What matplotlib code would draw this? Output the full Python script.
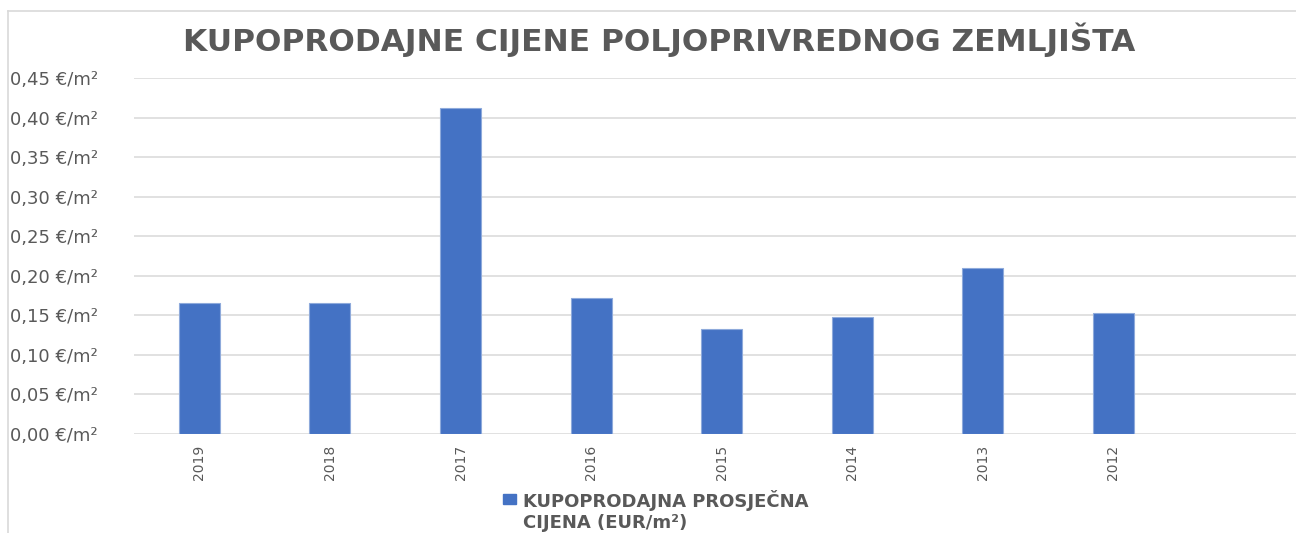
import matplotlib.pyplot as plt
from matplotlib.lines import Line2D
from matplotlib.patches import Rectangle

years = ['2019', '2018', '2017', '2016', '2015', '2014', '2013', '2012']
prices = [0.165, 0.165, 0.412, 0.172, 0.133, 0.148, 0.210, 0.153]
yticks = [0.00, 0.05, 0.10, 0.15, 0.20, 0.25, 0.30, 0.35, 0.40, 0.45]
title = 'KUPOPRODAJNE CIJENE POLJOPRIVREDNOG ZEMLJIŠTA'
legend_label = 'KUPOPRODAJNA PROSJEČNA\nCIJENA (EUR/m²)'

grey = '#595959'
blue = '#4472C4'

plt.rcParams['font.family'] = ['DejaVu Sans']

fig = plt.figure(figsize=(12.96, 5.33), dpi=100)
W, H = 1296, 533

# plot area in pixels: left 134, right cut off at image edge, y 0 at 434, 0.45 at 78
ax = fig.add_axes([134 / W, (H - 434) / H, (W - 134) / W, (434 - 78) / H])

x = list(range(len(years)))
ax.bar(x, prices, width=0.315, color=blue, edgecolor='#8eaadb', linewidth=0.8, zorder=3)

slot = 130.6
ax.set_xlim(-0.5, -0.5 + (W - 134) / slot)
ax.set_ylim(0, 0.45)
ax.set_yticks(yticks)
ax.set_yticklabels([('%.2f €/m²' % v).replace('.', ',') for v in yticks],
                   fontsize=13, color=grey)
ax.set_xticks(x)
ax.set_xticklabels(years, rotation=90, fontsize=10, color=grey)
ax.tick_params(axis='both', length=0)
ax.tick_params(axis='x', pad=8)
for lbl in ax.get_yticklabels():
    lbl.set_horizontalalignment('left')
# pad in points: labels start at x=10 px
ax.tick_params(axis='y', pad=(134 - 10) * 72 / 100)

ax.grid(axis='y', color='#dcdcdc', linewidth=1.2, zorder=0)
for s in ax.spines.values():
    s.set_visible(False)

# chart frame (cropped on right and bottom)
fig.add_artist(Line2D([8 / W, 8 / W], [0, (H - 11) / H], color='#d9d9d9', linewidth=1.2))
fig.add_artist(Line2D([8 / W, 1], [(H - 11) / H, (H - 11) / H], color='#d9d9d9', linewidth=1.2))

fig.text(659 / W, (H - 40) / H, title, ha='center', va='center',
         fontsize=22.5, fontweight='bold', color=grey)

# legend
fig.add_artist(Rectangle((503 / W, (H - 504) / H), 13 / W, 10 / H, color=blue))
fig.text(523 / W, (H - 490) / H, legend_label, ha='left', va='top',
         fontsize=13, fontweight='bold', color=grey, linespacing=1.2)

fig.savefig('out.png', dpi=100, facecolor='white')
